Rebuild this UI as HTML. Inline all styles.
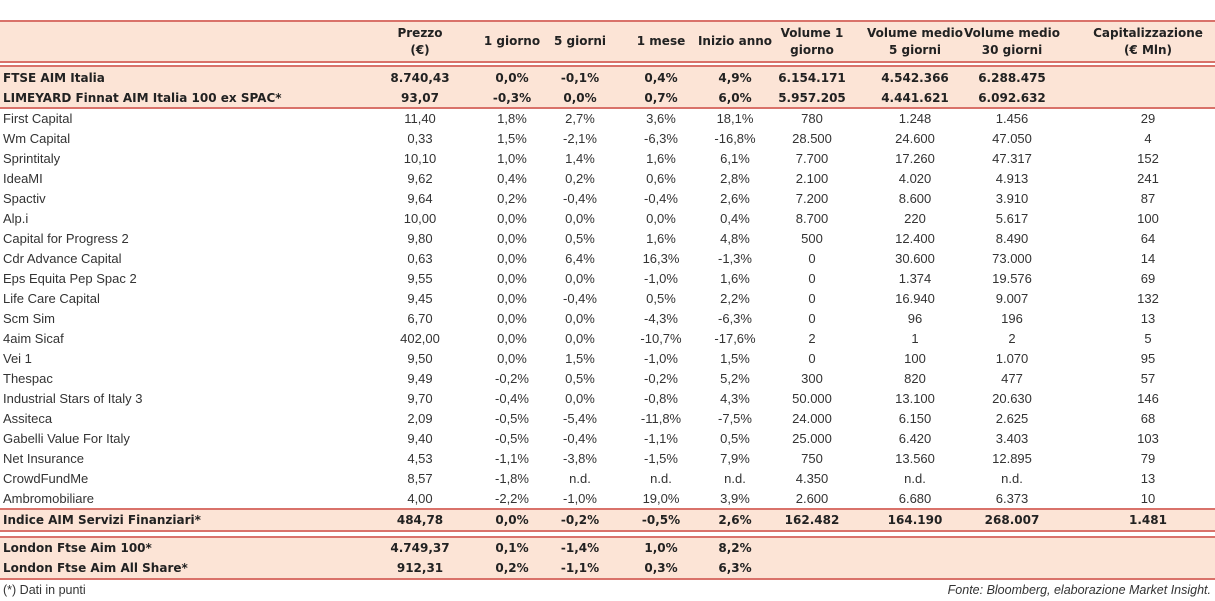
<!DOCTYPE html>
<html><head><meta charset="utf-8">
<style>
body{margin:0;width:1215px;height:601px;background:#fff;position:relative;overflow:hidden;font-family:"Liberation Sans","DejaVu Sans",sans-serif;color:#222}
.band{position:absolute;left:0;width:1215px;background:#fce4d6}
.ln{position:absolute;left:0;width:1215px;height:2px;background:#d9726a}
.c{position:absolute;white-space:nowrap;font-size:13px;line-height:20px;transform:translateX(-50%);color:#333}
.l{position:absolute;left:3px;white-space:nowrap;font-size:13px;line-height:20px;color:#333}
.b{font-family:"DejaVu Sans",sans-serif;font-weight:bold;font-size:12px;color:#222}
.h{position:absolute;font-family:"DejaVu Sans",sans-serif;font-weight:bold;font-size:12px;line-height:17px;text-align:center;transform:translateX(-50%);white-space:nowrap}
</style></head><body>
<div class="band" style="top:22px;height:40px"></div>
<div class="band" style="top:67px;height:41px"></div>
<div class="band" style="top:510px;height:21px"></div>
<div class="band" style="top:538px;height:41px"></div>
<div class="ln" style="top:20px"></div><div class="ln" style="top:61px"></div><div class="ln" style="top:65px"></div><div class="ln" style="top:107px"></div>
<div class="ln" style="top:508px"></div><div class="ln" style="top:530px"></div><div class="ln" style="top:536px"></div><div class="ln" style="top:578px"></div>
<div id="root"></div>
<div class="l" style="top:580px;font-size:12.5px">(*) Dati in punti</div>
<div style="position:absolute;right:4px;top:580px;font-size:12.5px;line-height:20px;font-style:italic;color:#333">Fonte: Bloomberg, elaborazione Market Insight.</div>
<script>
const cols=[420,512,580,661,735,812,915,1012,1148];
const headers=["Prezzo<br>(€)","1 giorno","5 giorni","1 mese","Inizio anno","Volume 1<br>giorno","Volume medio<br>5 giorni","Volume medio<br>30 giorni","Capitalizzazione<br>(€ Mln)"];
const rows=[
["FTSE AIM Italia","8.740,43","0,0%","-0,1%","0,4%","4,9%","6.154.171","4.542.366","6.288.475",""],
["LIMEYARD Finnat AIM Italia 100 ex SPAC*","93,07","-0,3%","0,0%","0,7%","6,0%","5.957.205","4.441.621","6.092.632",""],
["First Capital","11,40","1,8%","2,7%","3,6%","18,1%","780","1.248","1.456","29"],
["Wm Capital","0,33","1,5%","-2,1%","-6,3%","-16,8%","28.500","24.600","47.050","4"],
["Sprintitaly","10,10","1,0%","1,4%","1,6%","6,1%","7.700","17.260","47.317","152"],
["IdeaMI","9,62","0,4%","0,2%","0,6%","2,8%","2.100","4.020","4.913","241"],
["Spactiv","9,64","0,2%","-0,4%","-0,4%","2,6%","7.200","8.600","3.910","87"],
["Alp.i","10,00","0,0%","0,0%","0,0%","0,4%","8.700","220","5.617","100"],
["Capital for Progress 2","9,80","0,0%","0,5%","1,6%","4,8%","500","12.400","8.490","64"],
["Cdr Advance Capital","0,63","0,0%","6,4%","16,3%","-1,3%","0","30.600","73.000","14"],
["Eps Equita Pep Spac 2","9,55","0,0%","0,0%","-1,0%","1,6%","0","1.374","19.576","69"],
["Life Care Capital","9,45","0,0%","-0,4%","0,5%","2,2%","0","16.940","9.007","132"],
["Scm Sim","6,70","0,0%","0,0%","-4,3%","-6,3%","0","96","196","13"],
["4aim Sicaf","402,00","0,0%","0,0%","-10,7%","-17,6%","2","1","2","5"],
["Vei 1","9,50","0,0%","1,5%","-1,0%","1,5%","0","100","1.070","95"],
["Thespac","9,49","-0,2%","0,5%","-0,2%","5,2%","300","820","477","57"],
["Industrial Stars of Italy 3","9,70","-0,4%","0,0%","-0,8%","4,3%","50.000","13.100","20.630","146"],
["Assiteca","2,09","-0,5%","-5,4%","-11,8%","-7,5%","24.000","6.150","2.625","68"],
["Gabelli Value For Italy","9,40","-0,5%","-0,4%","-1,1%","0,5%","25.000","6.420","3.403","103"],
["Net Insurance","4,53","-1,1%","-3,8%","-1,5%","7,9%","750","13.560","12.895","79"],
["CrowdFundMe","8,57","-1,8%","n.d.","n.d.","n.d.","4.350","n.d.","n.d.","13"],
["Ambromobiliare","4,00","-2,2%","-1,0%","19,0%","3,9%","2.600","6.680","6.373","10"],
["Indice AIM Servizi Finanziari*","484,78","0,0%","-0,2%","-0,5%","2,6%","162.482","164.190","268.007","1.481"],
["London Ftse Aim 100*","4.749,37","0,1%","-1,4%","1,0%","8,2%","","","",""],
["London Ftse Aim All Share*","912,31","0,2%","-1,1%","0,3%","6,3%","","","",""]
];
const tops=[68,88];for(let i=0;i<20;i++)tops.push(109+i*20);tops.push(510,538,558);
const bold=[0,1,22,23,24];
const root=document.getElementById('root');
headers.forEach((h,i)=>{const d=document.createElement('div');d.className='h';d.style.left=cols[i]+'px';d.style.top=(h.includes('<br>')?25:33)+'px';d.innerHTML=h;


root.appendChild(d);});
rows.forEach((r,ri)=>{const isB=bold.includes(ri);
const lab=document.createElement('div');lab.className='l'+(isB?' b':'');lab.style.top=tops[ri]+'px';lab.textContent=r[0];


root.appendChild(lab);
for(let j=1;j<r.length;j++){if(!r[j])continue;const c=document.createElement('div');c.className='c'+(isB?' b':'');c.style.left=cols[j-1]+'px';c.style.top=tops[ri]+'px';c.textContent=r[j];


root.appendChild(c);}});
</script>
</body></html>
